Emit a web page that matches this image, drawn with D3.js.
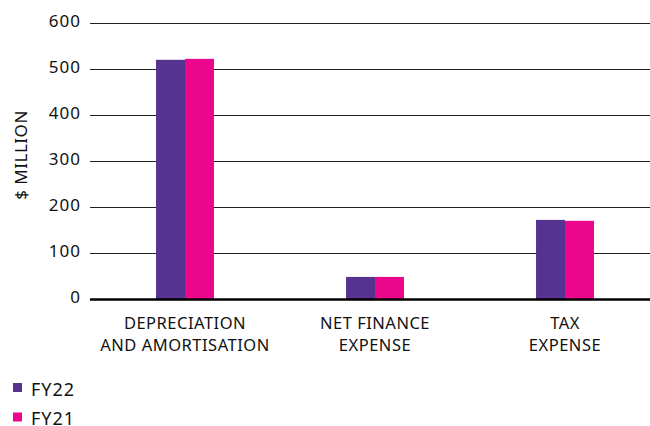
<!DOCTYPE html>
<html><head><meta charset="utf-8">
<script src="https://cdn.jsdelivr.net/npm/d3@7"></script>
<style>body{margin:0;background:#fff}svg{display:block}text{font-family:"Noto Sans",sans-serif;fill:#111}</style>
</head><body><svg id="c" width="650" height="426"></svg>
<script>
const categories = [["DEPRECIATION","AND AMORTISATION"],["NET FINANCE","EXPENSE"],["TAX","EXPENSE"]];
const seriesNames = ["FY22","FY21"];
const fy22 = [520, 48, 172];
const fy21 = [522, 48, 170];
const yTicks = [0,100,200,300,400,500,600];
const colors = ["#563391","#EC068C"];

const svg = d3.select("#c");
const y = d3.scaleLinear().domain([0,600]).range([299,23]);
const x0 = d3.scaleBand().domain(d3.range(categories.length)).range([90,660]).paddingInner(0.695).paddingOuter(0.3475);
const x1 = d3.scaleBand().domain(seriesNames).range([0,x0.bandwidth()]);
const gridX1 = 90, gridX2 = 650;

svg.append("g").selectAll("line").data(yTicks.filter(t=>t>0)).join("line")
  .attr("x1",gridX1).attr("x2",gridX2)
  .attr("y1",d=>Math.round(y(d))+0.5).attr("y2",d=>Math.round(y(d))+0.5)
  .attr("stroke","#222").attr("stroke-width",1);

svg.append("g").selectAll("text").data(yTicks).join("text")
  .attr("x",81).attr("y",d=>y(d)+4).attr("text-anchor","end")
  .attr("font-size",17).attr("letter-spacing",1).text(d=>d);

const vals = [fy22, fy21];
const g = svg.append("g");
categories.forEach((c,i)=>{
  seriesNames.forEach((s,j)=>{
    g.append("rect").attr("x",x0(i)+x1(s)).attr("width",x1.bandwidth())
      .attr("y",y(vals[j][i])).attr("height",y(0)-y(vals[j][i])).attr("fill",colors[j]);
  });
});

svg.append("line").attr("x1",gridX1).attr("x2",gridX2).attr("y1",y(0)+0.5).attr("y2",y(0)+0.5)
  .attr("stroke","#000").attr("stroke-width",2.5);

const cl = svg.append("g").selectAll("text").data(categories).join("text")
  .attr("text-anchor","middle").attr("font-size",16.5).attr("letter-spacing",0.5);
cl.each(function(d,i){
  const t = d3.select(this);
  d.forEach((line,k)=>{
    t.append("tspan").attr("x",x0(i)+x0.bandwidth()/2).attr("y",329+k*22).text(line);
  });
});

svg.append("text").attr("transform","translate(27,155) rotate(-90)").attr("text-anchor","middle")
  .attr("font-size",17).attr("letter-spacing",0.5).text("$ MILLION");

const lg = svg.append("g").selectAll("g").data(seriesNames).join("g")
  .attr("transform",(d,i)=>`translate(13,${383+i*29.5})`);
lg.append("rect").attr("width",9).attr("height",9).attr("fill",(d,i)=>colors[i]);
lg.append("text").attr("x",18).attr("y",12.5).attr("font-size",18).attr("letter-spacing",1).text(d=>d);
</script></body></html>
